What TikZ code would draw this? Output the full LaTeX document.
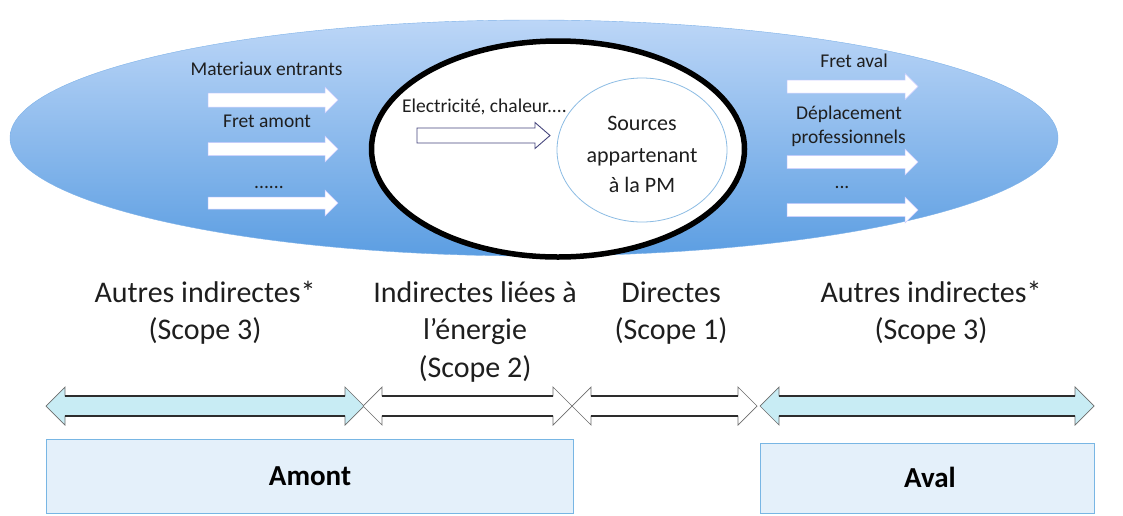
\documentclass[tikz,border=0pt]{standalone}
\usepackage{fontspec}
\setmainfont{Carlito}
\usetikzlibrary{shapes.geometric}
\definecolor{ellTop}{RGB}{188,214,247}
\definecolor{ellBot}{RGB}{92,158,226}
\definecolor{boxFill}{RGB}{228,240,250}
\definecolor{boxLine}{RGB}{120,182,228}
\definecolor{cyanFill}{RGB}{200,236,244}
\definecolor{arrLine}{RGB}{45,45,45}
\definecolor{elecLine}{RGB}{70,70,125}
\definecolor{srcLine}{RGB}{140,188,228}
\definecolor{txtCol}{RGB}{30,30,30}
% right block arrow: style, x1, x2(tip), y, shaft half, head half, head length
\newcommand{\blkR}[7]{\path[#1] (#2,#4-#5) -- (#3-#7,#4-#5) -- (#3-#7,#4-#6) -- (#3,#4) -- (#3-#7,#4+#6) -- (#3-#7,#4+#5) -- (#2,#4+#5) -- cycle;}
% double block arrow
\newcommand{\blkD}[7]{\path[#1] (#2,#4) -- (#2+#7,#4-#6) -- (#2+#7,#4-#5) -- (#3-#7,#4-#5) -- (#3-#7,#4-#6) -- (#3,#4) -- (#3-#7,#4+#6) -- (#3-#7,#4+#5) -- (#2+#7,#4+#5) -- (#2+#7,#4+#6) -- cycle;
  \draw[shaftline] (#2+#7,#4-#5) -- (#3-#7,#4-#5) (#2+#7,#4+#5) -- (#3-#7,#4+#5);}
\begin{document}
\begin{tikzpicture}[x=1pt,y=-1pt,
  bigtxt/.style={font=\fontsize{30}{37}\selectfont, text=txtCol, inner sep=0pt, anchor=base},
  smalltxt/.style={font=\fontsize{19.5}{24}\selectfont, text=txtCol, inner sep=0pt, anchor=base},
  srctxt/.style={font=\fontsize{22}{30}\selectfont, text=txtCol, inner sep=0pt, anchor=base},
  boxtxt/.style={font=\fontsize{29}{34}\selectfont\bfseries, text=black, inner sep=0pt, anchor=base},
  whitearr/.style={fill=white, draw=white!80!blue, line width=0.5pt},
  elecarr/.style={fill=white, draw=elecLine, line width=0.9pt},
  cyanarr/.style={fill=cyanFill, draw=arrLine!70, line width=0.7pt},
  plainarr/.style={fill=white, draw=arrLine!70, line width=0.7pt},
  shaftline/.style={draw=arrLine, line width=1.6pt},
  zonebox/.style={draw=boxLine, fill=boxFill, line width=1pt}]
\useasboundingbox (0,0) rectangle (1123,515);

% big blue ellipse
\node[ellipse, inner sep=0pt, minimum width=1048pt, minimum height=236pt,
      top color=ellTop, bottom color=ellBot, draw=ellBot!80!white, line width=0.4pt] (blue) at (534,138) {};
% black ellipse
\node[ellipse, inner sep=0pt, minimum width=373pt, minimum height=216pt,
      fill=white, draw=black, line width=5.5pt] (scope) at (558,149) {};
% inner ellipse
\node[ellipse, inner sep=0pt, minimum width=170pt, minimum height=144pt,
      fill=white, draw=srcLine, line width=0.8pt] (src) at (642,150) {};

% sources text
\node[srctxt] (s1) at (642,130) {Sources};
\node[srctxt] (s2) at (642,162) {appartenant};
\node[srctxt] (s3) at (642,192) {à la PM};

% left white arrows
\blkR{whitearr}{208}{338}{100}{7}{13}{13}
\blkR{whitearr}{208}{338}{149}{6.5}{13}{13}
\blkR{whitearr}{208}{338}{203}{6}{13}{13}
\node[smalltxt] (l1) at (266.5,75) {Materiaux entrants};
\node[smalltxt] (l2) at (267,127.5) {Fret amont};
\node[smalltxt] (l3) at (269,188) {......};

% right white arrows
\blkR{whitearr}{787}{918}{86.5}{6.5}{13}{13}
\blkR{whitearr}{787}{918}{162}{6.5}{13}{13}
\blkR{whitearr}{787}{918}{210}{6.5}{13}{13}
\node[smalltxt] (r1) at (854,67) {Fret aval};
\node[smalltxt] (r2) at (849,119) {Déplacement};
\node[smalltxt] (r3) at (848.5,143) {professionnels};
\node[smalltxt] (r4) at (842,188) {...};

% electricity arrow
\blkR{elecarr}{417}{550}{135.5}{7.5}{13}{15}
\node[smalltxt, anchor=base west] (el) at (402,112) {Electricité, chaleur....};

% scope labels
\node[bigtxt] (a1) at (205,302) {Autres indirectes*};
\node[bigtxt] (a2) at (205,339.5) {(Scope 3)};
\node[bigtxt] (b1) at (475,302) {Indirectes liées à};
\node[bigtxt] (b2) at (475,339.5) {l’énergie};
\node[bigtxt] (b3) at (475,377) {(Scope 2)};
\node[bigtxt] (c1) at (671,302) {Directes};
\node[bigtxt] (c2) at (671,339.5) {(Scope 1)};
\node[bigtxt] (d1) at (931,302) {Autres indirectes*};
\node[bigtxt] (d2) at (931,339.5) {(Scope 3)};

% double arrows
\blkD{cyanarr}{46}{364}{406}{10}{19}{19}
\blkD{plainarr}{363}{572}{406}{10}{19}{19}
\blkD{plainarr}{572}{757}{406}{10}{19}{19}
\blkD{cyanarr}{760}{1094}{406}{10}{19}{19}

% boxes
\node[zonebox, minimum width=527pt, minimum height=74pt, inner sep=0pt] (amontbox) at (309.5,476) {};
\node[boxtxt] (amont) at (310,485) {Amont};
\node[zonebox, minimum width=334pt, minimum height=70pt, inner sep=0pt] (avalbox) at (927,478) {};
\node[boxtxt] (aval) at (930,487) {Aval};
\end{tikzpicture}
\end{document}
